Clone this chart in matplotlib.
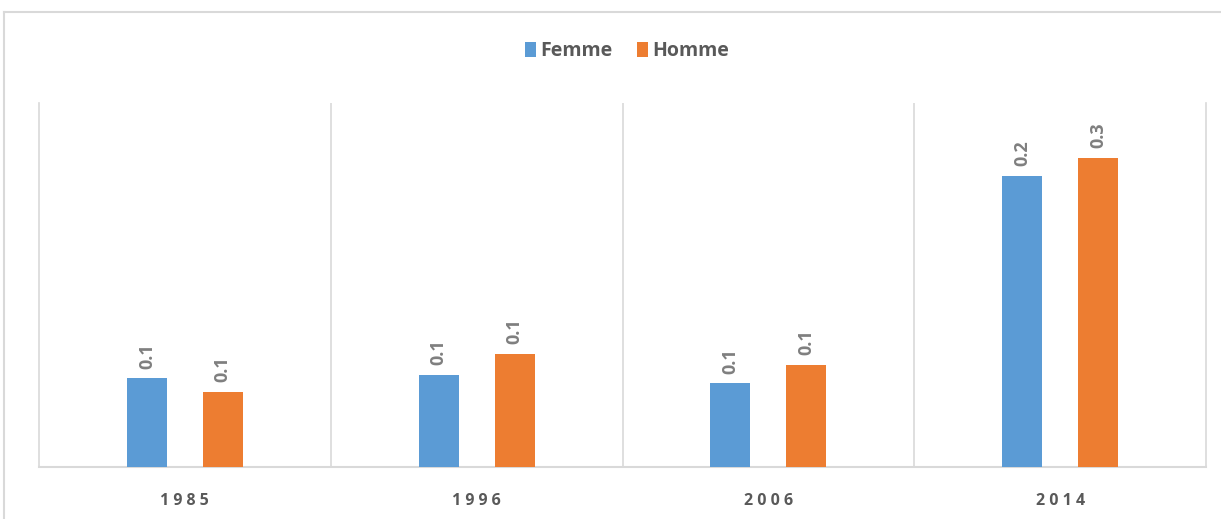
import matplotlib
matplotlib.use("Agg")
import matplotlib.pyplot as plt
from matplotlib.lines import Line2D
import numpy as np

plt.rcParams['font.family'] = ['Open Sans', 'DejaVu Sans']

years = ["1985", "1996", "2006", "2014"]
femme = [0.073, 0.076, 0.069, 0.240]
homme = [0.062, 0.093, 0.084, 0.255]
series_names = ["Femme", "Homme"]
colors = ["#5B9BD5", "#ED7D31"]

W, H = 1221, 519
fig = plt.figure(figsize=(W / 100, H / 100), dpi=100)
ax = fig.add_axes([39 / W, 1 - 467 / H, (1206 - 39) / W, (467 - 103) / H])

x = np.arange(len(years))
bw = 0.137
off = 0.13
for vals, name, c, sgn in [(femme, series_names[0], colors[0], -1), (homme, series_names[1], colors[1], 1)]:
    ax.bar(x + sgn * off, vals, width=bw, color=c, label=name, zorder=3)
    for xi, v in zip(x + sgn * off, vals):
        ax.annotate(f"{v:.1f}", (xi, v), xytext=(0, 7), textcoords="offset points",
                    rotation=90, ha="center", va="bottom", fontsize=13,
                    fontweight="bold", color="#7F7F7F")

ax.set_xlim(-0.5, len(years) - 0.5)
ax.set_ylim(0, 0.3)
ax.set_yticks([])
ax.set_xticks(x)
ax.set_xticklabels([" ".join(y) for y in years], fontsize=11.5, fontweight="bold", color="#595959")
ax.tick_params(axis="x", length=0, pad=19)
for b in np.arange(0.5, len(years) - 0.5, 1.0):
    ax.axvline(b, color="#D9D9D9", lw=1.2, zorder=1)
ax.spines["top"].set_visible(False)
for s in ["left", "right"]:
    ax.spines[s].set_color("#D9D9D9")
    ax.spines[s].set_linewidth(1.2)
ax.spines["bottom"].set_color("#D9D9D9")
ax.spines["bottom"].set_linewidth(1.5)

leg = fig.legend(loc="center", bbox_to_anchor=(627 / W, 1 - 51 / H), ncol=2, frameon=False,
                 fontsize=14, handlelength=0.55, handleheight=0.8, handletextpad=0.2,
                 columnspacing=1.3)
for t in leg.get_texts():
    t.set_color("#595959")
    t.set_fontweight("bold")

fig.add_artist(Line2D([4 / W, 1], [1 - 12 / H, 1 - 12 / H], color="#D9D9D9", lw=1.5))
fig.add_artist(Line2D([4 / W, 4 / W], [0, 1 - 12 / H], color="#D9D9D9", lw=1.5))

fig.savefig("out.png", dpi=100)
